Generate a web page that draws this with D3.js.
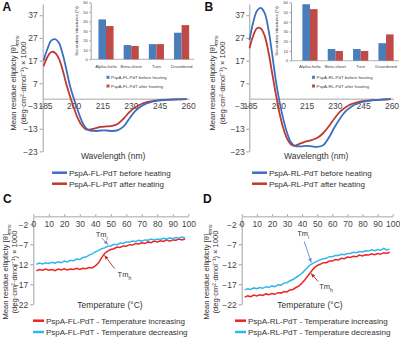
<!DOCTYPE html>
<html>
<head>
<meta charset="utf-8">
<script src="https://cdn.jsdelivr.net/npm/d3@7/dist/d3.min.js"></script>
<style>
  body { margin: 0; background: #fff; }
  svg { font-family: "Liberation Sans", Arial, sans-serif; }
</style>
</head>
<body>
<svg id="fig" width="400" height="337"></svg>
<script>
// ---- CD spectra (panels A, B) ----
const wavelength = [185, 187, 189, 191, 193, 195, 197, 199, 201, 203, 205, 207, 209, 212, 215, 218, 221, 224, 227, 230, 233, 236, 239, 242, 245, 250, 255, 260];
const flBefore = [17, 22, 25.8, 26.5, 25, 20, 13, 5.5, 0, -5, -9.5, -12.5, -13.7, -14, -13.8, -13.8, -14, -13.6, -12, -8.5, -5.3, -3.2, -1.9, -1.1, -0.6, -0.3, -0.1, 0];
const flAfter = [14.5, 18.5, 20.8, 20.5, 18, 13, 6.5, 1, -4, -8.5, -11.5, -13.2, -13.4, -12.8, -12.2, -12, -11.7, -10.8, -8.5, -5.7, -3.6, -2.2, -1.3, -0.8, -0.5, -0.2, -0.1, 0];
const rlBefore = [26, 34, 39, 40.2, 38, 31, 20, 8, -1.5, -9, -15, -19, -20.6, -20.8, -20.6, -20.8, -21, -20.3, -17, -12.5, -8.5, -5.3, -3.3, -2, -1.2, -0.5, -0.2, 0];
const rlAfter = [22.5, 28, 31.3, 31.2, 28, 21, 11.5, 2, -6.5, -13, -17.5, -20, -20.5, -19.5, -18.6, -18, -17, -15, -12, -8.5, -5.5, -3.5, -2.2, -1.4, -0.9, -0.4, -0.2, 0];
const cdYTicks = [37, 27, 17, 7, -3, -13, -23];
const cdXTicks = [185, 200, 215, 230, 245, 260];

// ---- secondary structure insets ----
const structures = ["Alpha-helix", "Beta-sheet", "Turn", "Disordered"];
const flStructBefore = [42, 15, 16, 28];
const flStructAfter = [35, 14, 16, 36];
const rlStructBefore = [58, 12, 12, 18];
const rlStructAfter = [53, 10, 10, 27];
const insetTicks = [0, 10, 20, 30, 40, 50, 60];

// ---- thermal melts (panels C, D) ----
const temperature = d3.range(2, 100, 2);
const flIncreasing = [-13.6, -13.3, -13.5, -13.2, -13.5, -13.3, -13.6, -13.2, -13.4, -13.1, -13.4, -13.2, -13.3, -13.0, -13.3, -13.0, -13.1, -12.8, -12.9, -12.4, -11.7, -10.4, -9.3, -8.7, -8.3, -8.1, -7.7, -7.8, -7.4, -7.5, -7.1, -7.2, -6.8, -6.9, -6.6, -6.8, -6.4, -6.6, -6.2, -6.4, -6.1, -6.3, -5.9, -6.2, -5.9, -6.0, -5.7, -5.9, -5.6];
const flDecreasing = [-12.0, -11.7, -11.9, -11.6, -11.8, -11.5, -11.7, -11.4, -11.6, -11.2, -11.4, -11.0, -11.1, -10.7, -10.8, -10.3, -10.2, -9.7, -9.4, -8.9, -8.6, -8.1, -7.9, -7.5, -7.4, -7.0, -7.1, -6.7, -6.8, -6.4, -6.5, -6.2, -6.3, -6.0, -6.2, -5.9, -6.0, -5.7, -5.9, -5.7, -5.8, -5.5, -5.7, -5.4, -5.6, -5.3, -5.5, -5.2, -5.4];
const rlIncreasing = [-20.2, -19.9, -20.1, -19.7, -19.9, -19.6, -19.8, -19.4, -19.6, -19.3, -19.5, -19.1, -19.2, -18.8, -18.9, -18.4, -18.3, -17.8, -17.4, -16.7, -15.8, -14.8, -13.8, -12.9, -12.3, -12.0, -11.6, -11.6, -11.2, -11.2, -10.8, -10.9, -10.5, -10.6, -10.2, -10.3, -10.0, -10.1, -9.7, -9.9, -9.6, -9.7, -9.4, -9.6, -9.3, -9.5, -9.1, -9.3, -9.0];
const rlDecreasing = [-18.4, -18.1, -18.3, -17.9, -18.1, -17.8, -18.0, -17.6, -17.8, -17.4, -17.6, -17.1, -17.2, -16.7, -16.6, -16.1, -15.8, -15.3, -14.8, -14.2, -13.4, -12.6, -12.0, -11.6, -11.2, -10.9, -10.6, -10.5, -10.1, -10.1, -9.8, -9.8, -9.5, -9.6, -9.3, -9.3, -9.0, -9.1, -8.8, -8.9, -8.6, -8.7, -8.4, -8.6, -8.3, -8.5, -8.0, -8.4, -8.2];
const meltYTicks = [-2, -7, -12, -17, -22];
const meltXTicks = [0, 10, 20, 30, 40, 50, 60, 70, 80, 90, 100];

const cdBlue = "#3b6fc2", cdRed = "#c0392f";
const barBlue = "#4a7ebb", barRed = "#be4b48";
const meltRed = "#ee2424", meltBlue = "#35b6ea";
const axisGrey = "#a0a0a0", textGrey = "#444";

const svg = d3.select("#fig");

svg.append("defs").selectAll("marker")
  .data([["arrBlue", "#6a86d8"], ["arrRed", "#b03028"]])
  .join("marker")
  .attr("id", (d) => d[0])
  .attr("viewBox", "0 0 10 10")
  .attr("refX", 9).attr("refY", 5)
  .attr("markerWidth", 5).attr("markerHeight", 5)
  .attr("orient", "auto")
  .append("path")
  .attr("d", "M0,1 L10,5 L0,9 Z")
  .attr("fill", (d) => d[1]);

function styleAxis(g, size) {
  g.select(".domain").attr("stroke", axisGrey);
  g.selectAll(".tick line").attr("stroke", axisGrey);
  g.selectAll(".tick text").attr("fill", textGrey).style("font-size", size + "px");
}

function yTitle(x, y, size) {
  const t = svg.append("text")
    .attr("transform", `translate(${x},${y}) rotate(-90)`)
    .attr("text-anchor", "middle")
    .attr("fill", "#333")
    .style("font-size", size + "px");
  return t;
}

function ellipticityTitle(x1, x2, cy) {
  const t1 = yTitle(x1, cy, 7.6);
  t1.append("tspan").text("Mean residue ellipticty [θ]");
  t1.append("tspan").attr("baseline-shift", "sub").style("font-size", "5px").text("mrw");
  yTitle(x2, cy, 7.6).text("(deg·cm²·dmol⁻¹) × 1000");
}

function letter(txt, x, y) {
  svg.append("text").attr("x", x).attr("y", y)
    .style("font-size", "12px").style("font-weight", "bold").attr("fill", "#111")
    .text(txt);
}

function legendLine(x, y, color, label, len) {
  svg.append("line").attr("x1", x).attr("x2", x + len).attr("y1", y).attr("y2", y)
    .attr("stroke", color).attr("stroke-width", 2.5);
  svg.append("text").attr("x", x + len + 2).attr("y", y).attr("dy", "0.35em")
    .style("font-size", "8px").attr("fill", "#333").text(label);
}

// CD spectrum panel with its inset bar chart
function spectrumPanel(p) {
  const x = d3.scaleLinear().domain([185, 260]).range(p.xRange);
  const y = d3.scaleLinear().domain([-23, 42]).range([151.4, 3.9]);

  svg.append("g")
    .attr("transform", `translate(${p.axisX},0)`)
    .call(d3.axisLeft(y).tickValues(cdYTicks).tickSize(3).tickPadding(p.pad).tickSizeOuter(0))
    .call((g) => styleAxis(g, 8.5));

  // zero line works as the x axis, labels sit at the -3 level
  svg.append("line")
    .attr("x1", p.axisX).attr("x2", x(260) + 3)
    .attr("y1", y(0)).attr("y2", y(0))
    .attr("stroke", "#c4c4c4").attr("stroke-width", 1.6);
  svg.append("g").selectAll("text")
    .data(cdXTicks)
    .join("text")
    .attr("x", (d) => x(d) + p.labelShift)
    .attr("y", y(-3))
    .attr("dy", "0.35em")
    .attr("text-anchor", "middle")
    .style("font-size", "8.5px")
    .attr("fill", textGrey)
    .text((d) => d);

  const line = d3.line()
    .x((d, i) => x(wavelength[i]))
    .y((d) => y(d))
    .curve(d3.curveCatmullRom);

  svg.append("path").datum(p.after).attr("d", line)
    .attr("fill", "none").attr("stroke", cdRed).attr("stroke-width", 1.8);
  svg.append("path").datum(p.before).attr("d", line)
    .attr("fill", "none").attr("stroke", cdBlue).attr("stroke-width", 1.8);

  svg.append("text").attr("x", (p.xRange[0] + p.xRange[1]) / 2 + p.titleShift).attr("y", 156)
    .attr("dy", "0.35em").attr("text-anchor", "middle")
    .style("font-size", "8.5px").attr("fill", "#333").text("Wavelength (nm)");

  ellipticityTitle(p.titleX[0], p.titleX[1], 83);
  letter(p.letter, p.letterPos[0], p.letterPos[1]);

  legendLine(p.legendX, 172.7, cdBlue, p.name + " before heating", 15);
  legendLine(p.legendX, 183.7, cdRed, p.name + " after heating", 15);

  // inset
  const ix = d3.scaleBand().domain(structures).range(p.inset.band);
  const iy = d3.scaleLinear().domain([0, 60]).range([p.inset.zero, 2.3]);
  const bw = ix.bandwidth() * 0.3;

  svg.append("g")
    .attr("transform", `translate(${p.inset.axisX},0)`)
    .call(d3.axisLeft(iy).tickValues(insetTicks).tickSize(1.5).tickPadding(1.5).tickSizeOuter(0))
    .call((g) => styleAxis(g, 4));
  svg.append("line")
    .attr("x1", p.inset.axisX).attr("x2", p.inset.band[1])
    .attr("y1", iy(0)).attr("y2", iy(0))
    .attr("stroke", axisGrey).attr("stroke-width", 0.8);

  const series = [[p.structBefore, barBlue, 0], [p.structAfter, barRed, 1]];
  series.forEach(function (s) {
    svg.append("g").selectAll("rect")
      .data(s[0])
      .join("rect")
      .attr("x", (d, i) => ix(structures[i]) + ix.bandwidth() / 2 - bw + s[2] * bw)
      .attr("y", (d) => iy(d))
      .attr("width", bw)
      .attr("height", (d) => iy(0) - iy(d))
      .attr("fill", s[1]);
  });

  svg.append("g").selectAll("text")
    .data(structures)
    .join("text")
    .attr("x", (d) => ix(d) + ix.bandwidth() / 2)
    .attr("y", 66.7).attr("dy", "0.35em")
    .attr("text-anchor", "middle")
    .style("font-size", "4.4px").attr("fill", textGrey)
    .text((d) => d);

  yTitle(p.inset.titleX, 31, 4.4).text("Secondary structures (%)");

  [[barBlue, " before heating", 77.3], [barRed, " after heating", 86]].forEach(function (l) {
    svg.append("rect").attr("x", p.inset.legendX).attr("y", l[2] - 1.5)
      .attr("width", 3).attr("height", 3).attr("fill", l[0]);
    svg.append("text").attr("x", p.inset.legendX + 4.5).attr("y", l[2]).attr("dy", "0.35em")
      .style("font-size", "4.4px").attr("fill", textGrey).text(p.name + l[1]);
  });
}

function tmLabel(x, y, sub) {
  const t = svg.append("text").attr("x", x).attr("y", y)
    .style("font-size", "7.5px").attr("fill", "#333");
  t.append("tspan").text("Tm");
  t.append("tspan").attr("baseline-shift", "sub").style("font-size", "5px").text(sub);
}

// thermal melt panel
function meltPanel(p) {
  const x = d3.scaleLinear().domain([0, 100]).range(p.xRange);
  const y = d3.scaleLinear().domain([-22, 0]).range([304.3, 216.3]);

  svg.append("g")
    .attr("transform", `translate(${p.xRange[0]},0)`)
    .call(d3.axisLeft(y).tickValues(meltYTicks).tickSize(3).tickPadding(p.pad).tickSizeOuter(0))
    .call((g) => styleAxis(g, 8.5));

  svg.append("g")
    .attr("transform", `translate(0,${y(0)})`)
    .call(d3.axisBottom(x).tickValues(meltXTicks).tickSize(-2).tickPadding(5).tickSizeOuter(0))
    .call((g) => styleAxis(g, 8.5))
    .call((g) => g.select(".domain").attr("stroke", "#c4c4c4").attr("stroke-width", 1.4));

  const line = d3.line()
    .x((d, i) => x(temperature[i]))
    .y((d) => y(d));

  svg.append("path").datum(p.increasing).attr("d", line)
    .attr("fill", "none").attr("stroke", meltRed).attr("stroke-width", 1.5);
  svg.append("path").datum(p.decreasing).attr("d", line)
    .attr("fill", "none").attr("stroke", meltBlue).attr("stroke-width", 1.5);

  // Tm annotations, arrow tips sit on the curves
  const tipI = [x(p.tmI), y(p.decreasing[temperature.indexOf(p.tmI)]) - 2];
  const tipH = [x(p.tmH), y(p.increasing[temperature.indexOf(p.tmH)]) + 2];
  const oi = p.offI, oh = p.offH;
  svg.append("line")
    .attr("x1", tipI[0] + oi[2]).attr("y1", tipI[1] + oi[3]).attr("x2", tipI[0]).attr("y2", tipI[1])
    .attr("stroke", "#6a86d8").attr("stroke-width", 0.9).attr("marker-end", "url(#arrBlue)");
  svg.append("line")
    .attr("x1", tipH[0] + oh[2]).attr("y1", tipH[1] + oh[3]).attr("x2", tipH[0]).attr("y2", tipH[1])
    .attr("stroke", "#b03028").attr("stroke-width", 0.9).attr("marker-end", "url(#arrRed)");
  tmLabel(tipI[0] + oi[0], tipI[1] + oi[1], "i");
  tmLabel(tipH[0] + oh[0], tipH[1] + oh[1], "h");

  svg.append("text").attr("x", p.titleCx).attr("y", 304.7)
    .attr("dy", "0.35em").attr("text-anchor", "middle")
    .style("font-size", "8.5px").attr("fill", "#333").text("Temperature (°C)");

  ellipticityTitle(p.titleX[0], p.titleX[1], 272);
  letter(p.letter, p.letterPos[0], p.letterPos[1]);

  legendLine(p.legendX, 320.7, meltRed, p.name + " - Temperature increasing", 11);
  legendLine(p.legendX, 332, meltBlue, p.name + " - Temperature decreasing", 11);
}

spectrumPanel({
  name: "PspA-FL-PdT", letter: "A", letterPos: [2.5, 10.5],
  xRange: [43.5, 186.7], axisX: 42.7, pad: 2, labelShift: 2, titleShift: -2, titleX: [15.5, 25.5],
  before: flBefore, after: flAfter, legendX: 52,
  structBefore: flStructBefore, structAfter: flStructAfter,
  inset: { axisX: 90.7, zero: 59.3, band: [93.4, 194.2], titleX: 78, legendX: 106.5 }
});

spectrumPanel({
  name: "PspA-RL-PdT", letter: "B", letterPos: [204.5, 10.5],
  xRange: [249.5, 391], axisX: 249.3, pad: 1.5, labelShift: 1, titleShift: -4, titleX: [215, 225],
  before: rlBefore, after: rlAfter, legendX: 252,
  structBefore: rlStructBefore, structAfter: rlStructAfter,
  inset: { axisX: 291, zero: 60.7, band: [297.3, 398.7], titleX: 278, legendX: 312 }
});

meltPanel({
  name: "PspA-FL-PdT", letter: "C", letterPos: [3, 203],
  xRange: [33.3, 188.3], pad: 2, titleX: [7.5, 16.5], titleCx: 110,
  increasing: flIncreasing, decreasing: flDecreasing, legendX: 33,
  tmI: 48, offI: [-12, -7.5, -6, -6.5], tmH: 46, offH: [13, 21, 10, 13]
});

meltPanel({
  name: "PspA-RL-PdT", letter: "D", letterPos: [203, 203],
  xRange: [241.7, 392.7], pad: 2, titleX: [208.5, 217.5], titleCx: 310,
  increasing: rlIncreasing, decreasing: rlDecreasing, legendX: 235,
  tmI: 46, offI: [-14, -26, -7, -21], tmH: 46, offH: [8, 15, 7, 8]
});
</script>
</body>
</html>
